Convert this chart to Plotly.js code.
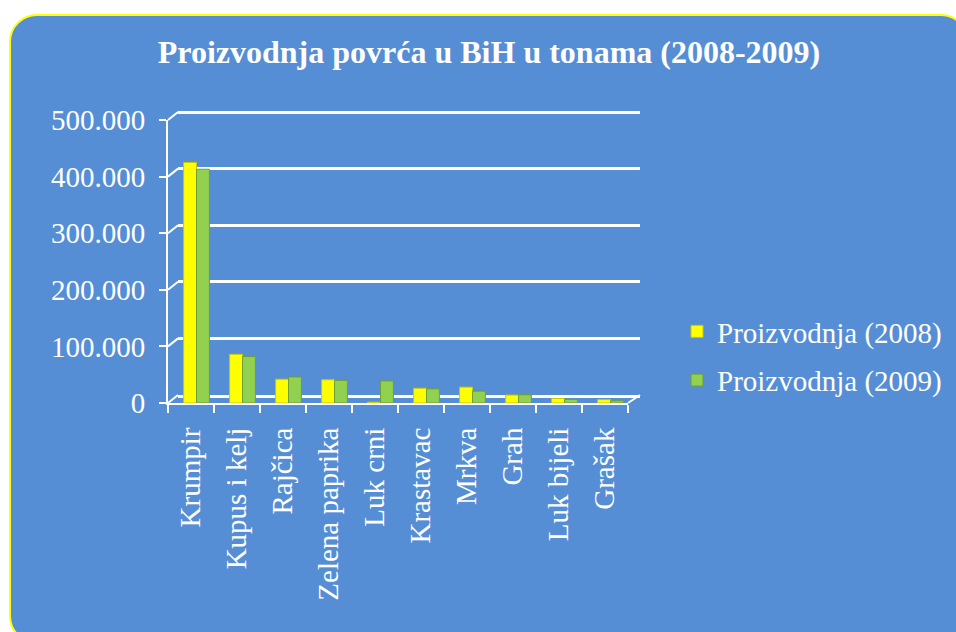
<!DOCTYPE html>
<html>
<head>
<meta charset="utf-8">
<script src="https://cdn.plot.ly/plotly-3.0.1.min.js"></script>
<style>
  html, body { margin: 0; padding: 0; background: #ffffff; width: 956px; height: 632px; overflow: hidden; }
  #panel { position: absolute; left: 9px; top: 14px; width: 960px; height: 630px; background: #558ED5;
           border: 2px solid #FFFF00; border-radius: 28px; box-sizing: border-box; }
  #chart { position: absolute; left: 0; top: 0; width: 956px; height: 632px; }
</style>
</head>
<body>
<div id="panel"></div>
<div id="chart"></div>
<script>
// ---- data ----
const categories = ["Krumpir", "Kupus i kelj", "Rajčica", "Zelena paprika", "Luk crni",
                    "Krastavac", "Mrkva", "Grah", "Luk bijeli", "Grašak"];
const prod2008 = [425000, 86000, 42000, 41000, 1500, 26000, 28000, 14000, 8000, 6000];
const prod2009 = [413000, 82000, 46000, 40000, 39000, 25000, 21000, 14500, 6500, 4000];
const seriesNames = ["Proizvodnja (2008)", "Proizvodnja (2009)"];
const yTickVals = [0, 100000, 200000, 300000, 400000, 500000];
const titleText = "Proizvodnja povrća u BiH u tonama (2008-2009)";

// ---- layout geometry (pixels of the 956x632 page) ----
const W = 956, H = 632;
const px = v => v / W, py = v => 1 - v / H;
const front = { x0: 168, x1: 628, yTop: 120, yBot: 403 };
const back  = { x0: 178, x1: 640, yTop: 112, yBot: 395 };
const backMax = 520000;                       // back wall range a bit above 500.000 so top gridline shows
const backTop = back.yBot - (back.yBot - back.yTop) * backMax / 500000;
const FONT = "Liberation Serif, Times New Roman, serif";

const traces = [
  // empty helper trace so the back-wall subplot (gridlines) is drawn underneath
  { type: "scatter", mode: "markers", x: [], y: [], xaxis: "x", yaxis: "y",
    showlegend: false, hoverinfo: "skip" },
  { type: "bar", name: seriesNames[0], x: categories, y: prod2008,
    marker: { color: "#FFFF00", line: { color: "#C9C900", width: 1 } },
    width: 0.28, offset: -0.16, legendgroup: "a", xaxis: "x2", yaxis: "y2" },
  { type: "bar", name: seriesNames[1], x: categories, y: prod2009,
    marker: { color: "#92D050", line: { color: "#6E9E3A", width: 1 } },
    width: 0.28, offset: 0.12, legendgroup: "b", xaxis: "x2", yaxis: "y2" }
];

// small diagonal connectors between front axis and back wall (3D look)
const shapes = [];
const yFrac = v => v / 500000;
yTickVals.forEach(v => {
  const fy = front.yBot - (front.yBot - front.yTop) * yFrac(v);
  const by = back.yBot - (back.yBot - back.yTop) * yFrac(v);
  shapes.push({ type: "line", xref: "paper", yref: "paper", layer: "below",
    x0: px(front.x0), y0: py(fy), x1: px(back.x0), y1: py(by),
    line: { color: "#FFFFFF", width: 2 } });
});
shapes.push({ type: "line", xref: "paper", yref: "paper", layer: "below",
  x0: px(front.x1), y0: py(front.yBot), x1: px(back.x1), y1: py(back.yBot),
  line: { color: "#FFFFFF", width: 2 } });

const layout = {
  width: W, height: H,
  margin: { l: 0, r: 0, t: 0, b: 0 },
  paper_bgcolor: "rgba(0,0,0,0)",
  plot_bgcolor: "rgba(0,0,0,0)",
  separators: ",.",
  font: { family: FONT, color: "#FFFFFF", size: 29 },
  title: { text: titleText, x: 489 / W, xanchor: "center", xref: "paper",
           y: py(52), yref: "container", yanchor: "middle",
           font: { family: FONT, size: 32, weight: "bold", color: "#FFFFFF" } },
  showlegend: true,
  legend: { x: px(677), xanchor: "left", y: py(306), yanchor: "top",
            bgcolor: "rgba(0,0,0,0)", font: { family: FONT, size: 29, color: "#FFFFFF" },
            traceorder: "grouped", tracegroupgap: 8 },
  barmode: "group",
  // back wall (gridlines)
  xaxis: { domain: [px(back.x0), px(back.x1)], anchor: "y", range: [0, 1],
           showgrid: false, zeroline: false, showticklabels: false, ticks: "",
           showline: true, linecolor: "#FFFFFF", linewidth: 3 },
  yaxis: { domain: [py(back.yBot), py(backTop)], anchor: "x", range: [0, backMax],
           tickvals: yTickVals, showticklabels: false, ticks: "",
           showgrid: true, gridcolor: "#FFFFFF", gridwidth: 3, zeroline: false, showline: false },
  // front axes (labels, bars)
  xaxis2: { domain: [px(front.x0), px(front.x1)], anchor: "y2", type: "category",
            showgrid: false, zeroline: false, showline: true, linecolor: "#FFFFFF", linewidth: 2,
            ticks: "outside", tickson: "boundaries", ticklen: 8, tickwidth: 2, tickcolor: "#FFFFFF",
            tickangle: -90, ticklabelstandoff: 11,
            tickfont: { family: FONT, size: 29, color: "#FFFFFF" } },
  yaxis2: { domain: [py(front.yBot), py(front.yTop)], anchor: "x2", range: [0, 500000],
            tickvals: yTickVals, tickformat: ",d",
            showgrid: false, zeroline: false, showline: true, linecolor: "#FFFFFF", linewidth: 2,
            ticks: "outside", ticklen: 7, tickwidth: 2, tickcolor: "#FFFFFF", ticklabelstandoff: 8,
            tickfont: { family: FONT, size: 29, color: "#FFFFFF" } },
  shapes: shapes
};

Plotly.newPlot("chart", traces, layout, { displayModeBar: false, staticPlot: true });
</script>
</body>
</html>
